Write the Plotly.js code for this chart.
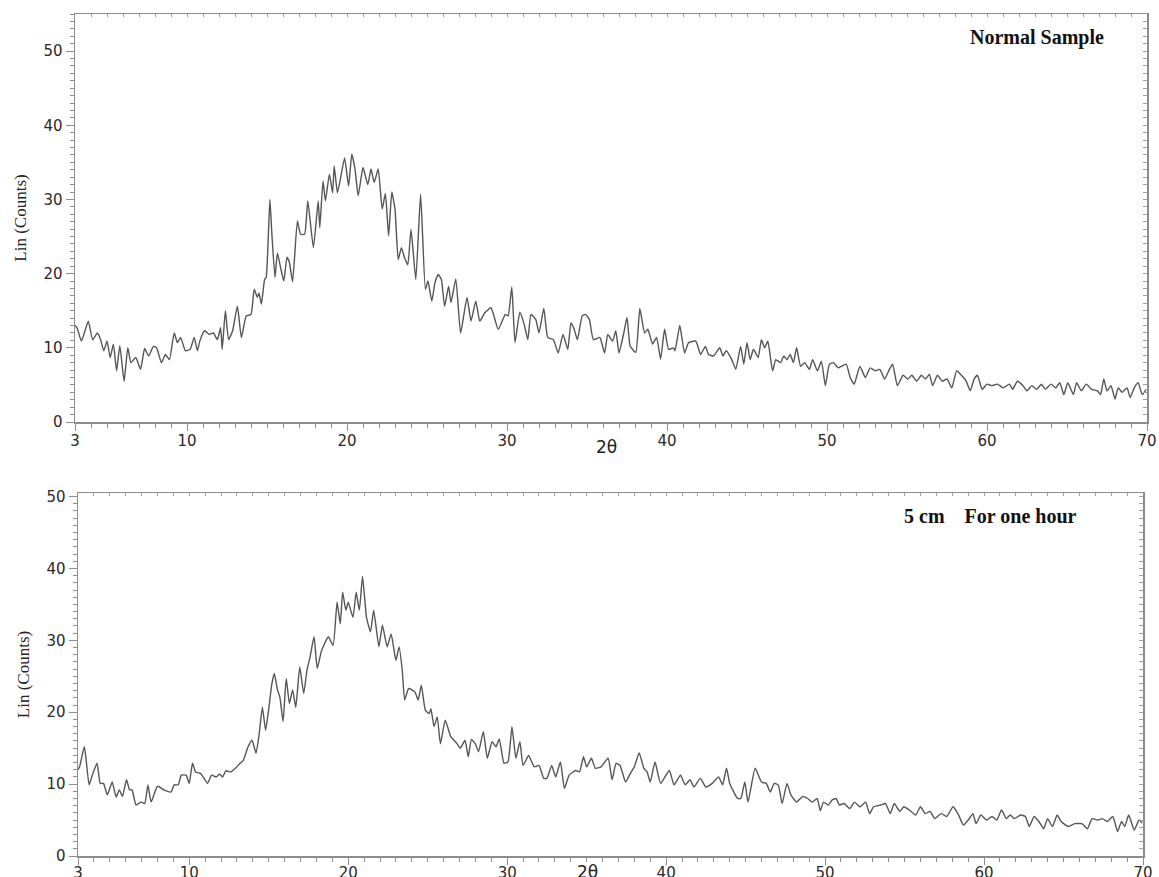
<!DOCTYPE html>
<html>
<head>
<meta charset="utf-8">
<script src="https://cdn.plot.ly/plotly-3.0.1.min.js"></script>
<style>html,body{margin:0;padding:0;background:#fff;}#chart{width:1159px;height:877px;}</style>
</head>
<body>
<div id="chart"></div>
<script>
// ---- Data (2θ in degrees, Lin (Counts)) ----
const normalTheta = [3.0,3.13,3.4,3.83,4.1,4.4,4.6,4.8,5.0,5.2,5.4,5.6,5.8,6.07,6.3,6.5,6.8,7.1,7.35,7.6,7.9,8.1,8.4,8.65,8.9,9.2,9.4,9.6,9.9,10.2,10.45,10.65,10.8,11.1,11.4,11.65,11.9,12.1,12.2,12.4,12.6,12.85,13.15,13.4,13.7,14.0,14.2,14.4,14.5,14.65,14.85,14.95,15.18,15.3,15.5,15.65,15.85,16.05,16.25,16.4,16.6,16.9,17.1,17.35,17.55,17.9,18.2,18.3,18.5,18.65,18.9,19.1,19.2,19.4,19.6,19.85,20.1,20.3,20.5,20.7,21.0,21.3,21.5,21.7,21.95,22.2,22.4,22.6,22.8,23.0,23.2,23.4,23.6,23.8,24.0,24.3,24.6,24.9,25.06,25.3,25.5,25.7,25.9,26.1,26.35,26.5,26.8,27.1,27.5,27.75,28.05,28.3,28.6,29.0,29.45,29.9,30.07,30.3,30.5,30.8,31.07,31.3,31.5,31.8,32.0,32.3,32.55,32.9,33.2,33.5,33.8,34.0,34.2,34.4,34.7,34.9,35.15,35.4,35.8,36.1,36.3,36.6,36.8,37.0,37.3,37.5,37.7,38.05,38.3,38.6,38.8,39.1,39.35,39.6,39.85,40.1,40.4,40.5,40.8,41.1,41.35,41.8,42.1,42.4,42.6,42.9,43.3,43.5,43.7,44.05,44.3,44.6,44.8,45.0,45.2,45.4,45.7,45.9,46.1,46.3,46.6,46.8,47.1,47.3,47.5,47.7,47.9,48.1,48.35,48.6,48.9,49.1,49.4,49.65,49.9,50.15,50.4,50.7,50.9,51.2,51.45,51.7,52.05,52.4,52.7,53.0,53.3,53.6,53.9,54.1,54.4,54.75,55.05,55.3,55.6,55.9,56.15,56.4,56.6,56.9,57.2,57.5,57.8,58.1,58.4,58.7,58.95,59.2,59.4,59.7,60.0,60.3,60.65,61.0,61.4,61.6,61.9,62.25,62.5,62.8,63.1,63.4,63.65,64.0,64.3,64.55,64.8,65.05,65.4,65.6,65.9,66.2,66.55,66.9,67.1,67.3,67.5,67.75,68.0,68.2,68.45,68.75,68.95,69.2,69.45,69.7,69.95];
const normalCounts = [13.0,12.7,10.9,13.6,11.1,12.0,11.1,9.6,10.9,8.7,10.5,6.9,10.3,5.5,10.0,8.0,8.7,7.1,9.9,8.9,10.2,10.0,8.0,9.1,8.4,12.0,10.7,11.4,9.6,9.8,11.4,9.6,10.9,12.3,11.8,12.0,11.1,12.7,9.8,15.0,11.1,12.3,15.6,11.4,14.3,14.5,17.9,16.8,17.4,15.9,19.2,19.5,30.0,25.5,19.5,22.8,20.8,19.0,22.2,21.5,18.9,27.1,25.3,25.3,29.8,23.5,29.8,26.2,32.5,29.8,33.4,30.9,34.5,30.9,32.9,35.6,31.8,36.1,34.1,30.5,34.3,32.0,34.1,32.3,34.1,28.7,30.8,25.1,31.0,28.7,21.9,23.5,22.1,21.2,26.0,19.2,30.7,17.9,19.0,16.3,18.8,19.9,19.2,15.6,18.3,16.1,19.3,12.0,16.8,13.6,16.3,13.6,14.7,15.4,12.5,14.5,14.3,18.2,10.7,14.8,13.2,11.1,14.5,13.8,12.0,15.3,11.4,11.1,9.3,11.8,9.8,13.4,12.5,11.1,14.3,14.5,13.8,11.1,11.4,9.3,11.8,10.9,12.3,9.3,12.0,14.1,10.2,9.4,15.3,12.0,12.5,10.5,11.4,8.5,12.5,9.8,10.0,9.6,13.0,9.3,10.7,10.9,9.1,10.2,9.1,8.9,10.0,8.9,9.6,8.4,7.1,10.2,7.8,10.7,8.4,9.8,8.7,11.1,10.0,10.9,6.9,8.4,8.0,8.9,8.4,9.1,8.0,10.0,7.5,8.0,7.1,8.4,6.9,8.2,4.9,7.8,8.0,7.3,7.5,7.8,6.0,5.1,7.5,6.0,7.3,6.9,7.1,5.8,7.1,7.8,4.9,6.3,5.8,6.3,5.5,6.3,5.8,6.4,4.9,6.3,5.5,5.8,4.6,6.9,6.3,5.5,4.2,5.8,6.3,4.4,5.1,4.9,5.1,4.6,5.1,4.4,5.5,4.9,4.2,4.9,4.4,5.1,4.4,5.1,4.6,5.3,3.7,5.3,3.7,5.3,4.2,5.1,4.4,4.2,3.7,5.8,4.2,4.9,3.1,4.6,4.0,4.6,3.3,4.6,5.3,3.7,4.4];

const treatedTheta = [3.0,3.1,3.4,3.7,3.9,4.2,4.4,4.6,4.85,5.15,5.4,5.6,5.8,6.05,6.25,6.4,6.65,6.97,7.2,7.4,7.6,8.0,8.4,8.85,9.05,9.3,9.5,9.8,10.0,10.2,10.4,10.7,10.8,11.15,11.4,11.7,11.9,12.1,12.3,12.6,12.9,13.2,13.4,13.7,13.95,14.2,14.4,14.6,14.8,15.0,15.2,15.35,15.55,15.7,15.9,16.1,16.3,16.5,16.7,16.95,17.2,17.4,17.6,17.85,18.05,18.3,18.5,18.75,19.05,19.3,19.5,19.65,19.85,20.0,20.3,20.5,20.7,20.9,21.15,21.4,21.6,21.93,22.15,22.45,22.7,23.0,23.2,23.4,23.55,23.8,24.2,24.4,24.6,24.85,25.1,25.2,25.4,25.6,25.8,26.1,26.45,26.65,26.85,27.05,27.35,27.55,27.75,28.0,28.2,28.5,28.75,29.05,29.3,29.5,29.8,30.05,30.3,30.55,30.8,31.0,31.35,31.7,32.0,32.3,32.5,32.8,33.05,33.35,33.6,33.9,34.3,34.55,34.8,35.0,35.3,35.55,35.9,36.35,36.6,36.85,37.1,37.45,37.75,38.0,38.3,38.6,38.8,39.0,39.3,39.65,40.2,40.5,40.9,41.2,41.5,41.75,42.15,42.5,42.9,43.3,43.55,43.8,44.0,44.5,44.7,44.95,45.15,45.6,46.0,46.3,46.55,46.8,47.05,47.3,47.6,47.85,48.2,48.6,48.9,49.2,49.5,49.7,49.9,50.2,50.45,50.7,50.9,51.2,51.55,51.85,52.2,52.55,52.8,53.05,53.5,53.8,54.1,54.35,54.7,54.95,55.3,55.7,56.0,56.3,56.6,56.9,57.3,57.65,58.05,58.4,58.7,59.0,59.3,59.5,59.8,60.15,60.5,60.8,61.1,61.4,61.65,61.9,62.3,62.6,62.85,63.15,63.45,63.75,64.0,64.3,64.6,64.85,65.3,65.7,66.15,66.5,66.8,67.15,67.45,67.75,68.1,68.4,68.65,68.85,69.1,69.45,69.75,69.95];
const treatedCounts = [12.0,12.4,15.2,9.9,11.25,12.9,10.1,10.1,8.5,10.3,8.2,9.2,8.3,10.6,9.2,9.2,7.1,7.5,7.3,9.9,7.5,9.7,9.2,8.9,9.9,9.9,11.25,11.25,10.1,12.9,11.7,11.5,11.25,10.1,11.25,11.0,11.4,11.0,11.85,11.7,12.2,12.9,13.3,15.2,16.1,14.3,17.0,20.7,17.5,20.5,24.0,25.4,23.1,22.1,18.7,24.7,21.2,23.1,20.7,26.3,22.6,25.8,27.7,30.5,26.1,28.4,29.5,30.5,29.3,35.3,32.3,36.7,34.2,35.3,33.2,36.7,34.2,38.9,33.2,31.2,34.2,29.1,32.1,29.1,30.9,27.2,29.1,25.8,21.7,23.3,22.8,21.7,23.75,20.3,19.8,20.5,18.0,19.35,15.6,18.9,16.6,16.1,15.6,15.0,16.1,13.8,16.2,15.6,14.5,17.3,13.6,15.9,15.2,16.3,12.9,13.1,18.0,13.6,15.9,12.6,14.0,12.4,12.6,10.8,10.8,12.6,11.0,13.1,9.4,11.25,11.9,11.7,13.8,12.4,13.6,12.2,12.4,13.6,10.6,12.9,12.6,10.3,11.5,12.4,14.35,12.2,11.7,10.3,13.1,10.1,11.9,9.9,11.25,9.9,10.6,9.6,10.8,9.6,10.1,11.0,9.9,12.2,10.1,8.0,8.0,10.3,7.5,12.2,10.3,10.1,8.9,10.1,9.9,7.3,10.1,8.5,7.5,8.3,8.0,7.5,8.0,6.3,7.5,7.1,7.8,8.0,7.1,7.3,6.6,7.5,6.85,7.5,5.9,6.85,7.1,7.3,5.9,7.3,6.2,6.85,6.4,5.7,6.85,5.9,6.2,5.2,5.9,5.5,6.85,5.7,4.3,5.0,5.9,4.5,5.7,5.0,5.5,5.0,6.4,5.2,5.7,5.2,5.7,5.5,4.1,5.5,4.8,3.8,5.2,4.1,5.7,4.8,4.1,4.5,4.5,3.8,5.2,5.0,5.2,4.8,5.5,3.4,4.8,4.1,5.7,3.6,5.0,4.6];

const xTickVals = [3,10,20,30,40,50,60,70];
const xTickText = ['3','10','20','30','40','50','60','70'];
const yTickVals = [0,10,20,30,40,50];
const panelLabels = ['Normal Sample', '5 cm\u00a0\u00a0\u00a0\u00a0For one hour'];
const xTitle = '2θ';
const yTitle = 'Lin (Counts)';

// ---- Layout helpers ----
const W = 1159, H = 877;
const px = v => v / W;
const py = v => 1 - v / H;

const axisColor = '#8c8c8c';
const tickFont = {family: 'DejaVu Sans, Verdana, sans-serif', size: 15, color: '#2a2a2a'};
const serif = 'Liberation Serif, Times New Roman, serif';

function xAxis(domain, anchor, standoff) {
  return {
    domain: domain, anchor: anchor, range: [3, 70],
    tickmode: 'array', tickvals: xTickVals, ticktext: xTickText,
    ticks: 'outside', ticklen: 7, tickcolor: axisColor, tickwidth: 1,
    minor: {ticks: 'outside', ticklen: 4, dtick: 1, tick0: 0, tickcolor: axisColor, showgrid: false},
    showline: true, linecolor: axisColor, linewidth: 1.5, mirror: true,
    showgrid: false, zeroline: false, tickfont: tickFont, ticklabelstandoff: standoff,
    fixedrange: true
  };
}
function yAxis(domain, anchor, rmax) {
  return {
    domain: domain, anchor: anchor, range: [0, rmax],
    tickmode: 'array', tickvals: yTickVals,
    ticks: 'outside', ticklen: 8, tickcolor: axisColor, tickwidth: 1,
    minor: {ticks: 'outside', ticklen: 4, dtick: 1, tick0: 0, tickcolor: axisColor, showgrid: false},
    showline: true, linecolor: axisColor, linewidth: 1.5, mirror: true,
    showgrid: false, zeroline: false, tickfont: tickFont,
    title: {text: yTitle, font: {family: serif, size: 17, color: '#222'}, standoff: 12},
    fixedrange: true
  };
}
function topAxis(base) {
  return {
    overlaying: base, side: 'top', range: [3, 70], anchor: base === 'x' ? 'y' : 'y2',
    tickmode: 'linear', tick0: 0, dtick: 1, ticks: 'inside', ticklen: 3, tickcolor: '#a0a0a0',
    showticklabels: false, showline: false, showgrid: false, zeroline: false, fixedrange: true
  };
}
function rightAxis(base, rmax) {
  return {
    overlaying: base, side: 'right', range: [0, rmax], anchor: base === 'y' ? 'x' : 'x2',
    tickmode: 'linear', tick0: 0, dtick: 1, ticks: 'inside', ticklen: 4, tickcolor: '#a0a0a0',
    showticklabels: false, showline: false, showgrid: false, zeroline: false, fixedrange: true
  };
}

const lineStyle = {color: '#555555', width: 1.4, shape: 'spline', smoothing: 0.45};

const traces = [
  {x: normalTheta, y: normalCounts, xaxis: 'x', yaxis: 'y', mode: 'lines', line: lineStyle, name: 'Normal Sample'},
  {x: treatedTheta, y: treatedCounts, xaxis: 'x2', yaxis: 'y2', mode: 'lines', line: lineStyle, name: '5 cm For one hour'},
  // empty traces so the frame tick axes (top/right) are drawn
  {x: [], y: [], xaxis: 'x3', yaxis: 'y', mode: 'lines', showlegend: false},
  {x: [], y: [], xaxis: 'x', yaxis: 'y3', mode: 'lines', showlegend: false},
  {x: [], y: [], xaxis: 'x4', yaxis: 'y2', mode: 'lines', showlegend: false},
  {x: [], y: [], xaxis: 'x2', yaxis: 'y4', mode: 'lines', showlegend: false}
];

const layout = {
  width: W, height: H,
  margin: {l: 0, r: 0, t: 0, b: 0},
  paper_bgcolor: '#ffffff', plot_bgcolor: '#ffffff',
  showlegend: false,
  xaxis: xAxis([px(75), px(1147)], 'y', -3),
  yaxis: yAxis([py(422), py(14)], 'x', 55),
  xaxis2: xAxis([px(78), px(1143)], 'y2', -5),
  yaxis2: yAxis([py(856), py(493)], 'x2', 50.5),
  xaxis3: topAxis('x'),
  yaxis3: rightAxis('y', 55),
  xaxis4: topAxis('x2'),
  yaxis4: rightAxis('y2', 50.5),
  annotations: [
    {text: '<b>' + panelLabels[0] + '</b>', xref: 'paper', yref: 'paper', x: px(1037), y: py(38),
     xanchor: 'center', yanchor: 'middle', showarrow: false,
     font: {family: serif, size: 20, color: '#111'}},
    {text: '<b>' + panelLabels[1] + '</b>', xref: 'paper', yref: 'paper', x: px(990), y: py(516),
     xanchor: 'center', yanchor: 'middle', showarrow: false,
     font: {family: serif, size: 20, color: '#111'}},
    {text: xTitle, xref: 'paper', yref: 'paper', x: px(607), y: py(447),
     xanchor: 'center', yanchor: 'middle', showarrow: false,
     font: {family: 'DejaVu Sans, sans-serif', size: 17, color: '#222'}},
    {text: xTitle, xref: 'paper', yref: 'paper', x: px(587), y: py(872),
     xanchor: 'center', yanchor: 'middle', showarrow: false,
     font: {family: 'DejaVu Sans, sans-serif', size: 17, color: '#222'}}
  ]
};

Plotly.newPlot('chart', traces, layout, {staticPlot: true, displayModeBar: false});
</script>
</body>
</html>
